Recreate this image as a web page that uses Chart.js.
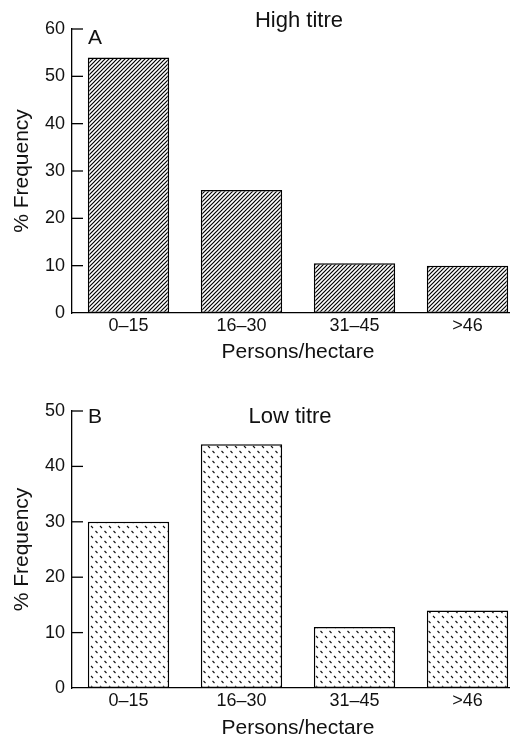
<!DOCTYPE html>
<html>
<head>
<meta charset="utf-8">
<script src="https://cdn.jsdelivr.net/npm/chart.js@4"></script>
<style>
  html, body { margin: 0; padding: 0; background: #fff; overflow: hidden; width: 510px; height: 738px; }
  canvas { display: block; }
</style>
</head>
<body>
<canvas id="highCanvas" width="524" height="365"></canvas>
<canvas id="lowCanvas" width="524" height="373"></canvas>
<script>
// data
const categories = ["0–15", "16–30", "31–45", ">46"];
const highTitre = [54, 26, 10.5, 10];
const lowTitre = [30, 44, 11, 14];
const highMax = 60;
const lowMax = 50;
const xTitle = "Persons/hectare";
const yTitle = "% Frequency";

const fontFamily = "'Liberation Sans', Arial, Helvetica, sans-serif";
Chart.defaults.font.family = fontFamily;
Chart.defaults.color = "#111";

// diagonal hatching for the high titre bars
function hatchPattern(ctx) {
  const c = document.createElement("canvas");
  c.width = 4; c.height = 4;
  const g = c.getContext("2d");
  g.fillStyle = "#fff";
  g.fillRect(0, 0, 4, 4);
  g.strokeStyle = "#000";
  g.lineWidth = 1.2;
  g.beginPath();
  g.moveTo(-1, 5); g.lineTo(5, -1);
  g.moveTo(-1, 1); g.lineTo(1, -1);
  g.moveTo(3, 5); g.lineTo(5, 3);
  g.stroke();
  return ctx.createPattern(c, "repeat");
}

// small dashes for the low titre bars
function dashPattern(ctx) {
  const c = document.createElement("canvas");
  c.width = 9; c.height = 10;
  const g = c.getContext("2d");
  g.fillStyle = "#fff";
  g.fillRect(0, 0, 9, 10);
  g.strokeStyle = "#111";
  g.lineWidth = 1.1;
  g.beginPath();
  g.moveTo(1, 1); g.lineTo(3, 3);
  g.moveTo(5.5, 6); g.lineTo(7.5, 8);
  g.stroke();
  return ctx.createPattern(c, "repeat");
}

// inward tick marks + panel letter and heading
const decorations = {
  id: "decorations",
  afterDraw(chart, args, opts) {
    const ctx = chart.ctx;
    const y = chart.scales.y;
    const area = chart.chartArea;
    ctx.save();
    ctx.strokeStyle = "#000";
    ctx.lineWidth = 1.3;
    y.ticks.forEach(t => {
      const py = y.getPixelForValue(t.value);
      if (t.value === 0) return;
      ctx.beginPath();
      ctx.moveTo(area.left, py);
      ctx.lineTo(area.left + 11, py);
      ctx.stroke();
    });
    ctx.fillStyle = "#111";
    ctx.textBaseline = "middle";
    ctx.textAlign = "left";
    ctx.font = "21px " + fontFamily;
    ctx.fillText(opts.letter, area.left + 16, area.top + opts.letterDy);
    ctx.textAlign = "center";
    ctx.font = "22px " + fontFamily;
    ctx.fillText(opts.heading, opts.headingX, area.top + opts.headingDy);
    ctx.restore();
  }
};

function makeChart(canvasId, values, max, patternFn, padTop, xHeight, titleBottom, letter, heading, headingX, letterDy, headingDy) {
  const canvas = document.getElementById(canvasId);
  const ctx = canvas.getContext("2d");
  return new Chart(canvas, {
    type: "bar",
    data: {
      labels: categories,
      datasets: [{
        data: values,
        backgroundColor: patternFn(ctx),
        borderColor: "#000",
        borderWidth: 1.5,
        borderSkipped: false,
        barPercentage: 0.72,
        categoryPercentage: 1
      }]
    },
    options: {
      responsive: false,
      animation: false,
      layout: { padding: { top: padTop, right: 0, bottom: 0, left: 0 } },
      plugins: {
        legend: { display: false },
        tooltip: { enabled: false },
        decorations: { letter, heading, headingX, letterDy, headingDy }
      },
      scales: {
        x: {
          grid: { display: false, drawTicks: false },
          border: { display: true, color: "#000", width: 1.3 },
          ticks: { font: { size: 18 }, padding: 2, color: "#111" },
          title: { display: true, text: xTitle, font: { size: 21 }, padding: { top: 0, bottom: titleBottom }, color: "#111" },
          afterFit: s => { s.height = xHeight; }
        },
        y: {
          min: 0,
          max: max,
          grid: { display: false, drawTicks: false },
          border: { display: true, color: "#000", width: 1.3 },
          ticks: { stepSize: 10, font: { size: 18 }, padding: 7, color: "#111" },
          title: { display: true, text: yTitle, font: { size: 21 }, padding: { top: 10, bottom: 0 }, color: "#111" },
          afterFit: s => { s.width = 72; }
        }
      }
    },
    plugins: [decorations]
  });
}

makeChart("highCanvas", highTitre, highMax, hatchPattern, 29, 52, 0, "A", "High titre", 299, 9, -8);
makeChart("lowCanvas", lowTitre, lowMax, dashPattern, 46, 50, -3, "B", "Low titre", 290, 6, 6);
</script>
</body>
</html>
